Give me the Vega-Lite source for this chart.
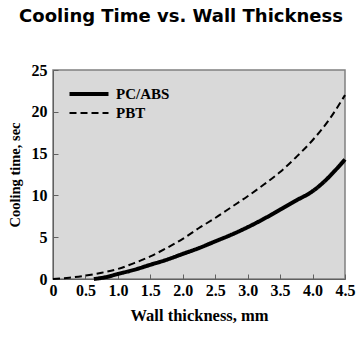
{
  "$schema": "https://vega.github.io/schema/vega-lite/v6.json",
  "autosize": "none",
  "width": 292,
  "height": 209,
  "padding": {"left": 53, "top": 70, "right": 15, "bottom": 63},
  "background": "white",
  "title": {
    "text": "Cooling Time vs. Wall Thickness",
    "font": "DejaVu Sans",
    "fontSize": 18,
    "fontWeight": "bold",
    "color": "black",
    "anchor": "middle",
    "dx": -18,
    "offset": 36
  },
  "config": {
    "view": {"fill": "#d9d9d9", "stroke": "#808080", "strokeWidth": 1.5},
    "axis": {
      "labelFont": "Liberation Serif",
      "labelFontSize": 16,
      "labelFontWeight": "bold",
      "labelColor": "black",
      "titleFont": "Liberation Serif",
      "titleFontWeight": "bold",
      "titleColor": "black",
      "grid": false,
      "domainColor": "#606060",
      "tickColor": "#606060",
      "tickSize": -5
    }
  },
  "data": {
    "values": [
      {"t": 0.63, "c": 0, "s": "PC/ABS"},
      {"t": 0.8, "c": 0.2, "s": "PC/ABS"},
      {"t": 1.0, "c": 0.6, "s": "PC/ABS"},
      {"t": 1.25, "c": 1.1, "s": "PC/ABS"},
      {"t": 1.5, "c": 1.7, "s": "PC/ABS"},
      {"t": 1.75, "c": 2.3, "s": "PC/ABS"},
      {"t": 2.0, "c": 3.0, "s": "PC/ABS"},
      {"t": 2.25, "c": 3.7, "s": "PC/ABS"},
      {"t": 2.5, "c": 4.5, "s": "PC/ABS"},
      {"t": 2.75, "c": 5.3, "s": "PC/ABS"},
      {"t": 3.0, "c": 6.2, "s": "PC/ABS"},
      {"t": 3.25, "c": 7.2, "s": "PC/ABS"},
      {"t": 3.5, "c": 8.3, "s": "PC/ABS"},
      {"t": 3.75, "c": 9.4, "s": "PC/ABS"},
      {"t": 4.0, "c": 10.5, "s": "PC/ABS"},
      {"t": 4.2, "c": 11.8, "s": "PC/ABS"},
      {"t": 4.35, "c": 13.0, "s": "PC/ABS"},
      {"t": 4.5, "c": 14.3, "s": "PC/ABS"},
      {"t": 0, "c": 0, "s": "PBT"},
      {"t": 0.25, "c": 0.15, "s": "PBT"},
      {"t": 0.5, "c": 0.4, "s": "PBT"},
      {"t": 0.75, "c": 0.75, "s": "PBT"},
      {"t": 1.0, "c": 1.2, "s": "PBT"},
      {"t": 1.25, "c": 1.9, "s": "PBT"},
      {"t": 1.5, "c": 2.7, "s": "PBT"},
      {"t": 1.75, "c": 3.7, "s": "PBT"},
      {"t": 2.0, "c": 4.8, "s": "PBT"},
      {"t": 2.25, "c": 6.1, "s": "PBT"},
      {"t": 2.5, "c": 7.3, "s": "PBT"},
      {"t": 2.75, "c": 8.6, "s": "PBT"},
      {"t": 3.0, "c": 9.9, "s": "PBT"},
      {"t": 3.25, "c": 11.3, "s": "PBT"},
      {"t": 3.5, "c": 12.8, "s": "PBT"},
      {"t": 3.75, "c": 14.6, "s": "PBT"},
      {"t": 4.0, "c": 16.6, "s": "PBT"},
      {"t": 4.25, "c": 19.0, "s": "PBT"},
      {"t": 4.5, "c": 22.0, "s": "PBT"}
    ]
  },
  "mark": {"type": "line", "interpolate": "monotone", "color": "black"},
  "encoding": {
    "x": {
      "field": "t",
      "type": "quantitative",
      "scale": {"domain": [0, 4.5], "nice": false},
      "axis": {
        "values": [0, 0.5, 1, 1.5, 2, 2.5, 3, 3.5, 4, 4.5],
        "labelExpr": "datum.value == 0 ? '0' : format(datum.value, '.1f')",
        "title": "Wall thickness, mm",
        "titleFontSize": 16.5,
        "labelPadding": 8,
        "titlePadding": 9,
        "labelFlush": false
      }
    },
    "y": {
      "field": "c",
      "type": "quantitative",
      "scale": {"domain": [0, 25], "nice": false},
      "axis": {
        "values": [0, 5, 10, 15, 20, 25],
        "title": "Cooling time, sec",
        "titleFontSize": 14.5,
        "labelPadding": 11,
        "titlePadding": 9
      }
    },
    "strokeDash": {
      "field": "s",
      "type": "nominal",
      "scale": {"domain": ["PC/ABS", "PBT"], "range": [[1, 0], [7, 4]]},
      "legend": {
        "title": null,
        "orient": "none",
        "legendX": 24,
        "legendY": 12,
        "symbolType": "M-2,0H2",
        "symbolSize": 380,
        "symbolStrokeColor": "black",
        "labelFont": "Liberation Serif",
        "labelFontSize": 15,
        "labelFontWeight": "bold",
        "labelColor": "black",
        "labelOffset": 15,
        "rowPadding": 0
      }
    },
    "strokeWidth": {
      "field": "s",
      "type": "nominal",
      "scale": {"domain": ["PC/ABS", "PBT"], "range": [4, 2]},
      "legend": null
    }
  }
}
